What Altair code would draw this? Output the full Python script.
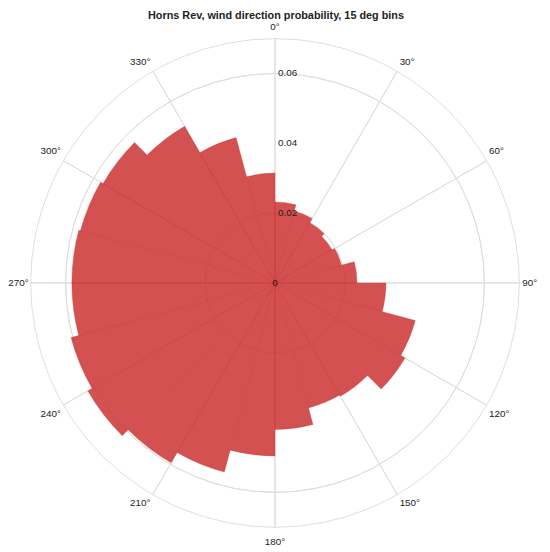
import math
import altair as alt
import pandas as pd

# ---------------- data ----------------
TITLE = "Horns Rev, wind direction probability, 15 deg bins"
BIN_WIDTH = 15
bin_start = list(range(0, 360, BIN_WIDTH))          # sector start, degrees (clockwise from north)
probability = [0.0232, 0.0213, 0.0199, 0.0189, 0.0197, 0.0235,
               0.0318, 0.0416, 0.0430, 0.0375, 0.0371, 0.0420,
               0.0496, 0.0561, 0.0595, 0.0619, 0.0605, 0.0582,
               0.0582, 0.0577, 0.0569, 0.0518, 0.0431, 0.0315]
grid_radii = [0.02, 0.04, 0.06]
outer_radius = 0.07
radial_ticks = [0.0, 0.02, 0.04, 0.06]
radial_tick_labels = ["0", "0.02", "0.04", "0.06"]
angle_ticks = list(range(0, 360, 30))
angle_tick_labels = [f"{a}°" for a in angle_ticks]

# ---------------- styling / layout ----------------
R_PX = 248
CX, CY = 271, 255
FONT = "Liberation Sans"
TEXT = "#222222"
GRID = "#dddddd"
BAR = "#cc3333"

bars_df = pd.DataFrame({"start": bin_start,
                        "end": [s + BIN_WIDTH for s in bin_start],
                        "p": probability})
grid_df = pd.DataFrame({"r": grid_radii})
outer_df = pd.DataFrame({"r": [outer_radius]})
spoke_df = pd.DataFrame({"angle": angle_ticks})
rt_df = pd.DataFrame({"r": radial_ticks, "label": radial_tick_labels})
at_df = pd.DataFrame({"angle": angle_ticks, "label": angle_tick_labels})
title_df = pd.DataFrame({"label": [TITLE]})

theta_scale = alt.Scale(domain=[0, 360], range=[0, 2 * math.pi])
r_scale = alt.Scale(type="linear", domain=[0, outer_radius], range=[0, R_PX], nice=False)
center = dict(x=alt.value(CX), y=alt.value(CY))


def circles(df):
    return alt.Chart(df).mark_arc(
        theta=0, theta2=2 * math.pi, fillOpacity=0, stroke=GRID, strokeWidth=1
    ).encode(radius=alt.Radius("r:Q", scale=r_scale), **center)


grid = circles(grid_df)
outer = circles(outer_df)

spokes = alt.Chart(spoke_df).transform_calculate(
    angle2="datum.angle + 0.01", rr=str(outer_radius)
).mark_arc(fillOpacity=0, stroke=GRID, strokeWidth=1).encode(
    theta=alt.Theta("angle:Q", scale=theta_scale, stack=False),
    theta2="angle2:Q",
    radius=alt.Radius("rr:Q", scale=r_scale),
    **center,
)

bars = alt.Chart(bars_df).mark_arc(
    fill=BAR, fillOpacity=0.85, stroke=BAR, strokeOpacity=0.55, strokeWidth=0.6
).encode(
    theta=alt.Theta("start:Q", scale=theta_scale, stack=False),
    theta2="end:Q",
    radius=alt.Radius("p:Q", scale=r_scale),
    **center,
)

rt_zero = alt.Chart(rt_df).transform_filter("datum.r == 0").mark_text(
    font=FONT, fontSize=10, color=TEXT, align="center", baseline="middle", theta=0
).encode(radius=alt.Radius("r:Q", scale=r_scale), text="label:N", **center)

rt_rest = alt.Chart(rt_df).transform_filter("datum.r > 0").mark_text(
    font=FONT, fontSize=10, color=TEXT, align="left", baseline="middle", theta=0, dx=3
).encode(radius=alt.Radius("r:Q", scale=r_scale), text="label:N", **center)

groups = [
    ("datum.angle == 0", "center", "bottom", 0, -7),
    ("datum.angle > 0 && datum.angle < 90", "left", "bottom", 2.5, -4.5),
    ("datum.angle == 90", "left", "middle", 3, 0),
    ("datum.angle > 90 && datum.angle < 180", "left", "top", 2.5, 4),
    ("datum.angle == 180", "center", "top", 0, 10),
    ("datum.angle > 180 && datum.angle < 270", "right", "top", -2.5, 4),
    ("datum.angle == 270", "right", "middle", -2, 0),
    ("datum.angle > 270", "right", "bottom", -2.5, -4.5),
]
angle_layers = []
for cond, align, baseline, dx, dy in groups:
    angle_layers.append(
        alt.Chart(at_df).transform_filter(cond).transform_calculate(
            rr=str(outer_radius)
        ).mark_text(
            font=FONT, fontSize=10, color=TEXT, align=align, baseline=baseline, dx=dx, dy=dy
        ).encode(
            theta=alt.Theta("angle:Q", scale=theta_scale, stack=False),
            radius=alt.Radius("rr:Q", scale=r_scale),
            text="label:N",
            **center,
        )
    )

title = alt.Chart(title_df).mark_text(
    font=FONT, fontSize=11, fontWeight="bold", color=TEXT, align="center", baseline="middle"
).encode(text="label:N", x=alt.value(CX + 1), y=alt.value(-16))

chart = alt.layer(grid, outer, spokes, bars, rt_zero, rt_rest, *angle_layers, title).properties(
    width=542,
    height=522,
    padding={"left": 0, "top": 20, "right": 0, "bottom": 0},
    autosize=alt.AutoSizeParams(type="none"),
).configure_view(strokeWidth=0)

chart.save("out.html", embed_options={"renderer": "svg", "actions": False})
